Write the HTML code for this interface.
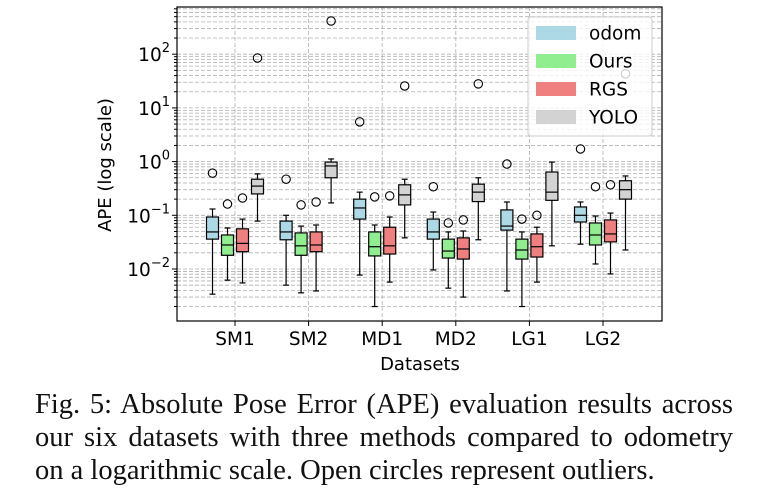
<!DOCTYPE html>
<html><head><meta charset="utf-8"><style>
body{margin:0;background:#fff;width:759px;height:503px;overflow:hidden}
svg{display:block}
.cap{position:absolute;left:35px;width:698px;font-family:"Liberation Serif",serif;font-size:28.5px;line-height:33px;color:#111;white-space:nowrap}
.cap div{text-align:justify;text-align-last:justify}
</style></head><body>
<svg id="chart" width="759" height="390" style="position:absolute;left:0;top:0"></svg>
<div class="cap" style="top:388px"><div>Fig. 5: Absolute Pose Error (APE) evaluation results across</div><div>our six datasets with three methods compared to odometry</div><div style="text-align-last:left">on a logarithmic scale. Open circles represent outliers.</div></div>
<script>
const categories=["SM1","SM2","MD1","MD2","LG1","LG2"];
const methods=["odom","Ours","RGS","YOLO"];
const colors=["#add8e6","#90ee90","#f08080","#d3d3d3"];
// each: [whiskerLow, Q1, median, Q3, whiskerHigh, outlier(or null)]
const odomStats=[[0.0034,0.036,0.049,0.093,0.131,0.61],[0.005,0.035,0.049,0.078,0.10,0.47],[0.0077,0.085,0.137,0.20,0.27,5.5],[0.0096,0.036,0.049,0.085,0.115,0.34],[0.0039,0.053,0.063,0.126,0.177,0.90],[0.029,0.075,0.10,0.143,0.177,1.72]];
const oursStats=[[0.0062,0.018,0.028,0.043,0.058,0.162],[0.0036,0.018,0.027,0.047,0.063,0.156],[0.002,0.0175,0.026,0.049,0.066,0.22],[0.0044,0.016,0.0216,0.036,0.049,0.072],[0.002,0.0153,0.0226,0.036,0.049,0.085],[0.0124,0.028,0.043,0.072,0.097,0.34]];
const rgsStats=[[0.0055,0.021,0.030,0.056,0.085,0.21],[0.0039,0.021,0.028,0.049,0.066,0.177],[0.0057,0.019,0.027,0.060,0.093,0.23],[0.003,0.0153,0.0236,0.038,0.051,0.082],[0.0057,0.0167,0.026,0.045,0.060,0.10],[0.0081,0.032,0.045,0.082,0.110,0.37]];
const yoloStats=[[0.078,0.25,0.35,0.47,0.59,85],[0.17,0.50,0.83,0.98,1.12,415],[0.038,0.156,0.24,0.37,0.47,25.6],[0.035,0.18,0.27,0.38,0.50,28],[0.027,0.19,0.27,0.64,0.98,null],[0.0226,0.20,0.30,0.44,0.54,43]];
const yTickExp=[-2,-1,0,1,2];

const NS="http://www.w3.org/2000/svg";
const svg=document.getElementById('chart');
const L=177,R=662,T=7,B=321;
const FONT='DejaVu Sans, Liberation Sans, sans-serif';
function y(v){return 269-53.7*(Math.log10(v)+2);}
function x(i){return 235+i*73.6;}
function mk(t,a,p){const e=document.createElementNS(NS,t);for(const k in a)e.setAttribute(k,a[k]);(p||svg).appendChild(e);return e;}
const grid=mk('g',{});


for(let d=-3;d<=2;d++){for(let m=1;m<=9;m++){const v=m*Math.pow(10,d);const yy=y(v);if(yy<T||yy>B)continue;
 mk('line',{x1:L,x2:R,y1:yy,y2:yy,stroke:'#b0b0b0','stroke-width':0.8,'stroke-dasharray':'4,2'},grid);
 mk('line',{x1:L,x2:L-(m==1?5:3),y1:yy,y2:yy,stroke:'#000','stroke-width':1},grid);}}
categories.forEach((c,i)=>mk('line',{x1:x(i),x2:x(i),y1:T,y2:B,stroke:'#b0b0b0','stroke-width':0.8,'stroke-dasharray':'4,2'},grid));
const all=[odomStats,oursStats,rgsStats,yoloStats];
const offs=[-22.5,-7.5,7.5,22.5];
all.forEach((arr,m)=>{arr.forEach((s,i)=>{
 const g=mk('g',{});
 
 
 const cx=x(i)+offs[m],w=12;
 mk('line',{x1:cx,x2:cx,y1:y(s[0]),y2:y(s[1]),stroke:'#000','stroke-width':1.2},g);
 mk('line',{x1:cx,x2:cx,y1:y(s[3]),y2:y(s[4]),stroke:'#000','stroke-width':1.2},g);
 mk('line',{x1:cx-3,x2:cx+3,y1:y(s[0]),y2:y(s[0]),stroke:'#000','stroke-width':1.2},g);
 mk('line',{x1:cx-3,x2:cx+3,y1:y(s[4]),y2:y(s[4]),stroke:'#000','stroke-width':1.2},g);
 mk('rect',{x:cx-w/2,y:y(s[3]),width:w,height:y(s[1])-y(s[3]),fill:colors[m],stroke:'#000','stroke-width':1.2},g);
 mk('line',{x1:cx-w/2,x2:cx+w/2,y1:y(s[2]),y2:y(s[2]),stroke:'#000','stroke-width':1.2},g);
 if(s[5]!==null)mk('circle',{cx:cx,cy:y(s[5]),r:4.2,fill:'none',stroke:'#000','stroke-width':1.1},g);
});});
mk('rect',{x:L,y:T,width:R-L,height:B-T,fill:'none',stroke:'#000','stroke-width':1.2});
categories.forEach((c,i)=>{mk('line',{x1:x(i),x2:x(i),y1:B,y2:B+5,stroke:'#000'});
 const t=mk('text',{x:x(i),y:345,'text-anchor':'middle','font-family':FONT,'font-size':18.5});t.textContent=c;
 
 });
yTickExp.forEach(e=>{const t=mk('text',{x:170,y:y(Math.pow(10,e))+7,'text-anchor':'end','font-family':FONT,'font-size':18.5});
 t.innerHTML='10<tspan dy="-9" font-size="13">'+(e<0?'\u2212'+(-e):e)+'</tspan>';
 
 });
let t=mk('text',{x:420,y:370,'text-anchor':'middle','font-family':FONT,'font-size':18});t.textContent='Datasets';


t=mk('text',{x:0,y:0,transform:'translate(111,165) rotate(-90)','text-anchor':'middle','font-family':FONT,'font-size':18});t.textContent='APE (log scale)';


const lg=mk('g',{});


mk('rect',{x:528,y:17,width:124,height:119,rx:3,fill:'rgba(255,255,255,0.8)',stroke:'#ccc'},lg);
methods.forEach((m,k)=>{const yy=33+k*28;
 const e=mk('g',{},lg);
 
 
 mk('rect',{x:536,y:yy-7,width:40,height:14,fill:colors[k]},e);
 const tx=mk('text',{x:589,y:yy+6.5,'font-family':FONT,'font-size':18.5},e);tx.textContent=m;});
</script>
</body></html>
